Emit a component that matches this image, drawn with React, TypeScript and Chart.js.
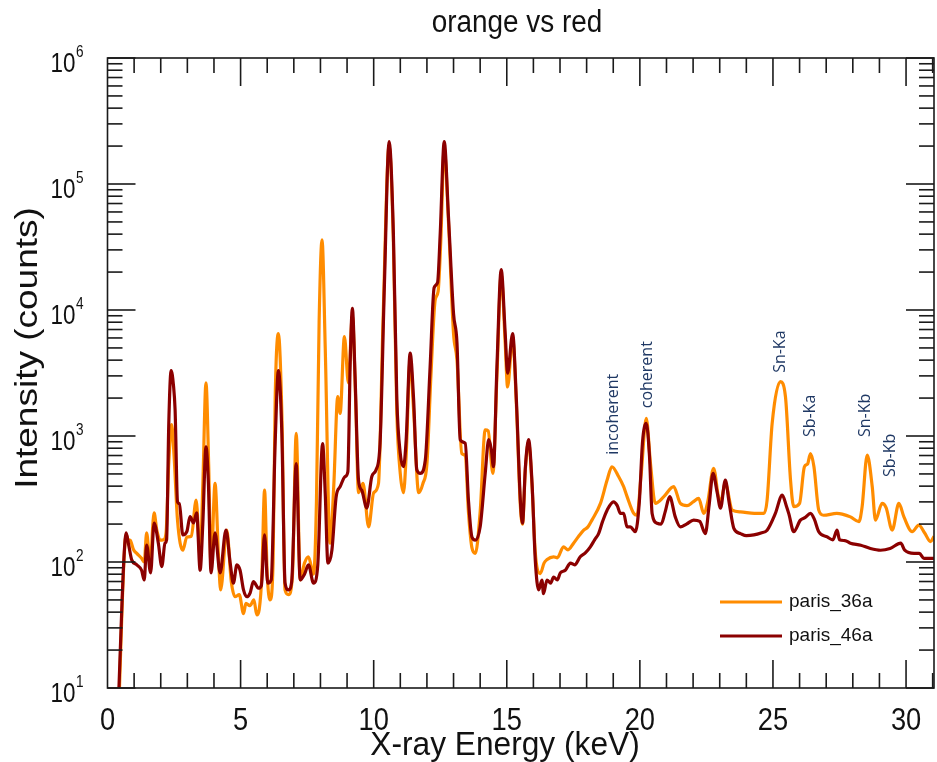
import React, { useEffect, useRef } from 'react';
import { Chart, registerables } from 'chart.js';

Chart.register(...registerables);

// ---------- data ----------
const orangeEnergy = [
  0.45, 0.55, 0.63, 0.7, 0.78, 0.85, 0.98, 1.1, 1.28, 1.38, 1.47, 1.6, 1.75, 1.85, 1.98, 2.1, 2.2, 2.3, 2.41, 2.5,
  2.63, 2.83, 2.98, 3.15, 3.33, 3.48, 3.58, 3.7, 3.8, 3.89, 4.04, 4.17, 4.25, 4.48, 4.65, 4.79, 4.95, 5.11, 5.2, 5.35,
  5.5, 5.61, 5.7, 5.8, 5.9, 6.0, 6.11, 6.22, 6.3, 6.42, 6.55, 6.67, 6.8, 6.95, 7.09, 7.24, 7.4, 7.55, 7.74, 7.85,
  7.95, 8.06, 8.18, 8.36, 8.5, 8.65, 8.74, 8.9, 9.05, 9.2, 9.32, 9.43, 9.6, 9.81, 10.0, 10.18, 10.35, 10.58, 10.74, 10.87,
  11.0, 11.12, 11.22, 11.37, 11.5, 11.69, 11.85, 12.0, 12.15, 12.31, 12.42, 12.52, 12.65, 12.81, 13.0, 13.13, 13.31, 13.44, 13.56, 13.69,
  13.82, 14.0, 14.19, 14.3, 14.48, 14.63, 14.79, 14.94, 15.03, 15.22, 15.36, 15.51, 15.59, 15.7, 15.82, 15.95, 16.07, 16.26, 16.4, 16.5,
  16.76, 16.9, 17.13, 17.3, 17.51, 17.7, 17.89, 18.05, 18.2, 18.52, 18.77, 18.95, 19.2, 19.39, 19.52, 19.77, 19.89, 20.05, 20.24, 20.4,
  20.58, 20.9, 21.27, 21.52, 21.77, 22.0, 22.21, 22.4, 22.55, 22.77, 22.95, 23.03, 23.21, 23.47, 23.78, 24.3, 24.66, 24.78, 24.97, 25.28,
  25.47, 25.66, 25.78, 26.0, 26.18, 26.3, 26.41, 26.54, 26.72, 26.9, 27.4, 27.6, 27.91, 28.23, 28.35, 28.54, 28.73, 28.85, 29.1, 29.25,
  29.48, 29.73, 29.92, 30.23, 30.48, 30.7, 30.92, 31.05,
];
const orangeCounts = [
  10, 45, 115, 165, 150, 149, 125, 117, 107, 100, 170, 98, 245, 180, 149, 150, 170, 600, 1230, 700,
  215, 124, 158, 160, 310, 110, 400, 2640, 600, 92, 420, 110, 60, 179, 70, 53, 55, 39, 47, 45,
  50, 38, 42, 80, 372, 80, 50, 100, 2000, 6500, 1500, 60, 55, 80, 1050, 72, 98, 110, 80, 300,
  8000, 36000, 5000, 141, 400, 2050, 1510, 6150, 2640, 9000, 2000, 355, 420, 190, 355, 420, 8000, 200000, 35000, 1500,
  500, 355, 700, 4000, 1600, 355, 420, 600, 3000, 12000, 14000, 35000, 190000, 50000, 6500, 4000, 725, 700, 250, 130,
  117, 250, 1120, 1100, 505, 3000, 19000, 5500, 2450, 6000, 1800, 280, 200, 550, 900, 400, 120, 81, 98, 104,
  110, 108, 132, 125, 141, 160, 179, 190, 215, 292, 447, 570, 477, 396, 330, 243, 235, 500, 1380, 600,
  292, 330, 396, 292, 280, 300, 320, 243, 300, 553, 330, 300, 420, 258, 250, 243, 243, 310, 1260, 2700,
  2050, 447, 275, 292, 570, 600, 725, 570, 258, 235, 243, 240, 228, 209, 275, 705, 396, 215, 292, 270,
  179, 292, 228, 174, 196, 170, 145, 160,
];

const redEnergy = [
  0.43, 0.53, 0.62, 0.7, 0.8, 0.91, 1.1, 1.28, 1.38, 1.47, 1.62, 1.75, 1.91, 2.04, 2.16, 2.22, 2.3, 2.39, 2.48, 2.54,
  2.63, 2.7, 2.83, 2.98, 3.1, 3.23, 3.35, 3.48, 3.58, 3.7, 3.79, 3.89, 4.04, 4.23, 4.45, 4.61, 4.73, 4.86, 4.98, 5.11,
  5.23, 5.36, 5.48, 5.67, 5.78, 5.9, 6.02, 6.15, 6.3, 6.42, 6.55, 6.67, 6.8, 6.92, 7.09, 7.24, 7.4, 7.55, 7.74, 7.9,
  8.08, 8.18, 8.28, 8.43, 8.59, 8.74, 8.93, 9.03, 9.12, 9.2, 9.3, 9.43, 9.55, 9.74, 9.93, 10.09, 10.24, 10.4, 10.58, 10.74,
  10.87, 11.0, 11.12, 11.22, 11.37, 11.5, 11.62, 11.75, 11.94, 12.12, 12.27, 12.4, 12.5, 12.65, 12.81, 13.0, 13.13, 13.25, 13.44, 13.56,
  13.69, 13.82, 14.0, 14.19, 14.32, 14.42, 14.5, 14.63, 14.79, 14.94, 15.03, 15.22, 15.36, 15.51, 15.59, 15.7, 15.82, 15.95, 16.07, 16.2,
  16.32, 16.38, 16.51, 16.65, 16.76, 16.9, 17.01, 17.2, 17.39, 17.55, 17.76, 17.95, 18.14, 18.3, 18.45, 18.6, 18.77, 19.01, 19.15, 19.27,
  19.39, 19.52, 19.64, 19.83, 19.98, 20.1, 20.24, 20.36, 20.46, 20.65, 20.8, 20.95, 21.12, 21.33, 21.52, 21.75, 22.02, 22.25, 22.46, 22.6,
  22.75, 22.9, 23.03, 23.21, 23.35, 23.53, 23.78, 24.0, 24.28, 24.55, 24.78, 25.09, 25.35, 25.5, 25.6, 25.78, 26.03, 26.2, 26.41, 26.55,
  26.72, 27.04, 27.25, 27.41, 27.5, 27.7, 27.91, 28.3, 28.66, 29.04, 29.4, 29.8, 29.95, 30.3, 30.5, 30.67, 31.05,
];
const redCounts = [
  10, 39, 110, 170, 135, 104, 95, 86, 72, 136, 82, 204, 141, 92, 141, 150, 1200, 3300, 2500, 1600,
  301, 290, 164, 174, 229, 204, 245, 86, 200, 822, 424, 82, 170, 82, 179, 98, 68, 95, 86, 60,
  53, 57, 70, 62, 65, 164, 68, 72, 900, 3300, 1050, 68, 60, 70, 605, 72, 80, 95, 68, 95,
  870, 350, 98, 124, 330, 396, 477, 520, 4000, 10300, 3000, 447, 372, 268, 477, 540, 880, 15000, 217000, 40600,
  1960, 725, 570, 930, 4540, 1950, 540, 505, 645, 3540, 15000, 16500, 40600, 217000, 55000, 9350, 5450, 934, 875, 310,
  158, 149, 190, 505, 935, 780, 570, 3540, 20900, 6600, 3150, 6500, 1950, 310, 203, 570, 935, 420, 104, 60,
  72, 56, 72, 68, 76, 72, 82, 86, 98, 95, 110, 118, 132, 150, 168, 210, 258, 300, 280, 243,
  243, 190, 190, 174, 300, 900, 1260, 700, 243, 203, 200, 250, 330, 228, 190, 200, 215, 210, 168, 280,
  505, 360, 268, 447, 300, 185, 168, 162, 164, 170, 179, 243, 340, 280, 240, 174, 215, 225, 243, 220,
  174, 158, 150, 179, 150, 148, 141, 136, 128, 124, 128, 141, 124, 117, 117, 107, 107,
];

const seriesNames = ['paris_36a', 'paris_46a'];
const xTickValues = [0, 5, 10, 15, 20, 25, 30];
const yDecadeExponents = [1, 2, 3, 4, 5, 6];
const peakLabels = ['incoherent', 'coherent', 'Sn-Ka', 'Sb-Ka', 'Sn-Kb', 'Sb-Kb'];
const peakLabelEnergy = [19.01, 20.27, 25.28, 26.41, 28.48, 29.42];
const peakLabelBaseCounts = [710, 1660, 3170, 980, 980, 473];

const ORANGE = '#FF8C00';
const RED = '#8B0000';
const AXIS_FONT = '"Liberation Sans", Arial, Helvetica, sans-serif';

function squeezedText(
  ctx: CanvasRenderingContext2D,
  text: string,
  x: number,
  y: number,
  size: number,
  sx: number,
  align: CanvasTextAlign,
  baseline: CanvasTextBaseline,
) {
  ctx.save();
  ctx.translate(x, y);
  ctx.scale(sx, 1);
  ctx.font = `${size}px ${AXIS_FONT}`;
  ctx.textAlign = align;
  ctx.textBaseline = baseline;
  ctx.fillText(text, 0, 0);
  ctx.restore();
}

const framePlugin = {
  id: 'idlFrame',
  afterDraw(chart: any) {
    const { ctx, chartArea: a, scales } = chart;
    const xs = scales.x;
    const ys = scales.y;
    ctx.save();
    ctx.strokeStyle = '#1a1a1a';
    ctx.lineWidth = 1.6;
    ctx.strokeRect(a.left, a.top, a.right - a.left, a.bottom - a.top);

    const seg = (x1: number, y1: number, x2: number, y2: number) => {
      ctx.beginPath();
      ctx.moveTo(x1, y1);
      ctx.lineTo(x2, y2);
      ctx.stroke();
    };

    // x ticks (bottom & top, inward)
    for (let v = 1; v <= Math.floor(xs.max); v++) {
      const px = xs.getPixelForValue(v);
      const len = v % 5 === 0 ? 28 : 15;
      seg(px, a.bottom, px, a.bottom - len);
      seg(px, a.top, px, a.top + len);
    }
    // y ticks (left & right, inward)
    for (const e of yDecadeExponents) {
      for (let m = 1; m < 10; m++) {
        const val = m * Math.pow(10, e);
        if (val > ys.max * 1.0001) break;
        const py = ys.getPixelForValue(val);
        const len = m === 1 ? 28 : 15;
        seg(a.left, py, a.left + len, py);
        seg(a.right, py, a.right - len, py);
        if (e === 6) break;
      }
    }

    ctx.fillStyle = '#111';
    // x tick labels
    for (const v of xTickValues) {
      squeezedText(ctx, String(v), xs.getPixelForValue(v), a.bottom + 42, 31, 0.88, 'center', 'alphabetic');
    }
    // y tick labels 10^n
    for (const e of yDecadeExponents) {
      const py = ys.getPixelForValue(Math.pow(10, e));
      squeezedText(ctx, '10', a.left - 32, py + 14, 28, 0.8, 'right', 'alphabetic');
      squeezedText(ctx, String(e), a.left - 31.5, py - 1.5, 17, 0.8, 'left', 'alphabetic');
    }

    // axis titles
    squeezedText(ctx, 'X-ray Energy (keV)', 505, 746, 33, 0.96, 'center', 'middle');
    ctx.save();
    ctx.translate(28, 348);
    ctx.rotate(-Math.PI / 2);
    ctx.scale(1, 0.86);
    ctx.font = `37px ${AXIS_FONT}`;
    ctx.textAlign = 'center';
    ctx.textBaseline = 'middle';
    ctx.fillText('Intensity (counts)', 0, 0);
    ctx.restore();

    // title
    squeezedText(ctx, 'orange vs red', 517, 23, 31, 0.9, 'center', 'middle');

    // peak annotations
    ctx.fillStyle = '#1F3864';
    ctx.font = '16px "Open Sans", Lato, sans-serif';
    ctx.textAlign = 'left';
    ctx.textBaseline = 'middle';
    peakLabels.forEach((t, i) => {
      const px = xs.getPixelForValue(peakLabelEnergy[i]);
      const py = ys.getPixelForValue(peakLabelBaseCounts[i]);
      ctx.save();
      ctx.translate(px, py);
      ctx.rotate(-Math.PI / 2);
      ctx.fillText(t, 0, 0);
      ctx.restore();
    });

    // legend
    const colors = [ORANGE, RED];
    ctx.font = `19px ${AXIS_FONT}`;
    ctx.textAlign = 'left';
    ctx.textBaseline = 'middle';
    seriesNames.forEach((n, i) => {
      const ly = 602 + i * 34;
      ctx.strokeStyle = colors[i];
      ctx.lineWidth = 3;
      seg(720, ly, 782, ly);
      ctx.fillStyle = '#111';
      ctx.fillText(n, 789, ly);
    });
    ctx.restore();
  },
};

export default function App() {
  const canvasRef = useRef<HTMLCanvasElement | null>(null);

  useEffect(() => {
    if (!canvasRef.current) return;
    const toPoints = (xs: number[], ys: number[]) => xs.map((x, i) => ({ x, y: ys[i] }));
    const chart = new Chart(canvasRef.current, {
      type: 'line',
      data: {
        datasets: [
          {
            label: seriesNames[0],
            data: toPoints(orangeEnergy, orangeCounts),
            borderColor: ORANGE,
            borderWidth: 3.2,
            pointRadius: 0,
            cubicInterpolationMode: 'monotone',
            order: 2,
          },
          {
            label: seriesNames[1],
            data: toPoints(redEnergy, redCounts),
            borderColor: RED,
            borderWidth: 3.2,
            pointRadius: 0,
            cubicInterpolationMode: 'monotone',
            order: 1,
          },
        ],
      },
      options: {
        animation: false,
        responsive: true,
        maintainAspectRatio: false,
        parsing: false,
        layout: { padding: { left: 107.5, right: 3, top: 58, bottom: 74 } },
        plugins: { legend: { display: false }, title: { display: false }, tooltip: { enabled: false } },
        scales: {
          x: { type: 'linear', min: 0, max: 31.05, display: false },
          y: { type: 'logarithmic', min: 10, max: 1e6, display: false },
        },
      },
      plugins: [framePlugin],
    });
    return () => chart.destroy();
  }, []);

  return (
    <div style={{ position: 'absolute', left: 0, top: 0, width: 937, height: 762, background: '#fff' }}>
      <canvas ref={canvasRef} />
    </div>
  );
}
